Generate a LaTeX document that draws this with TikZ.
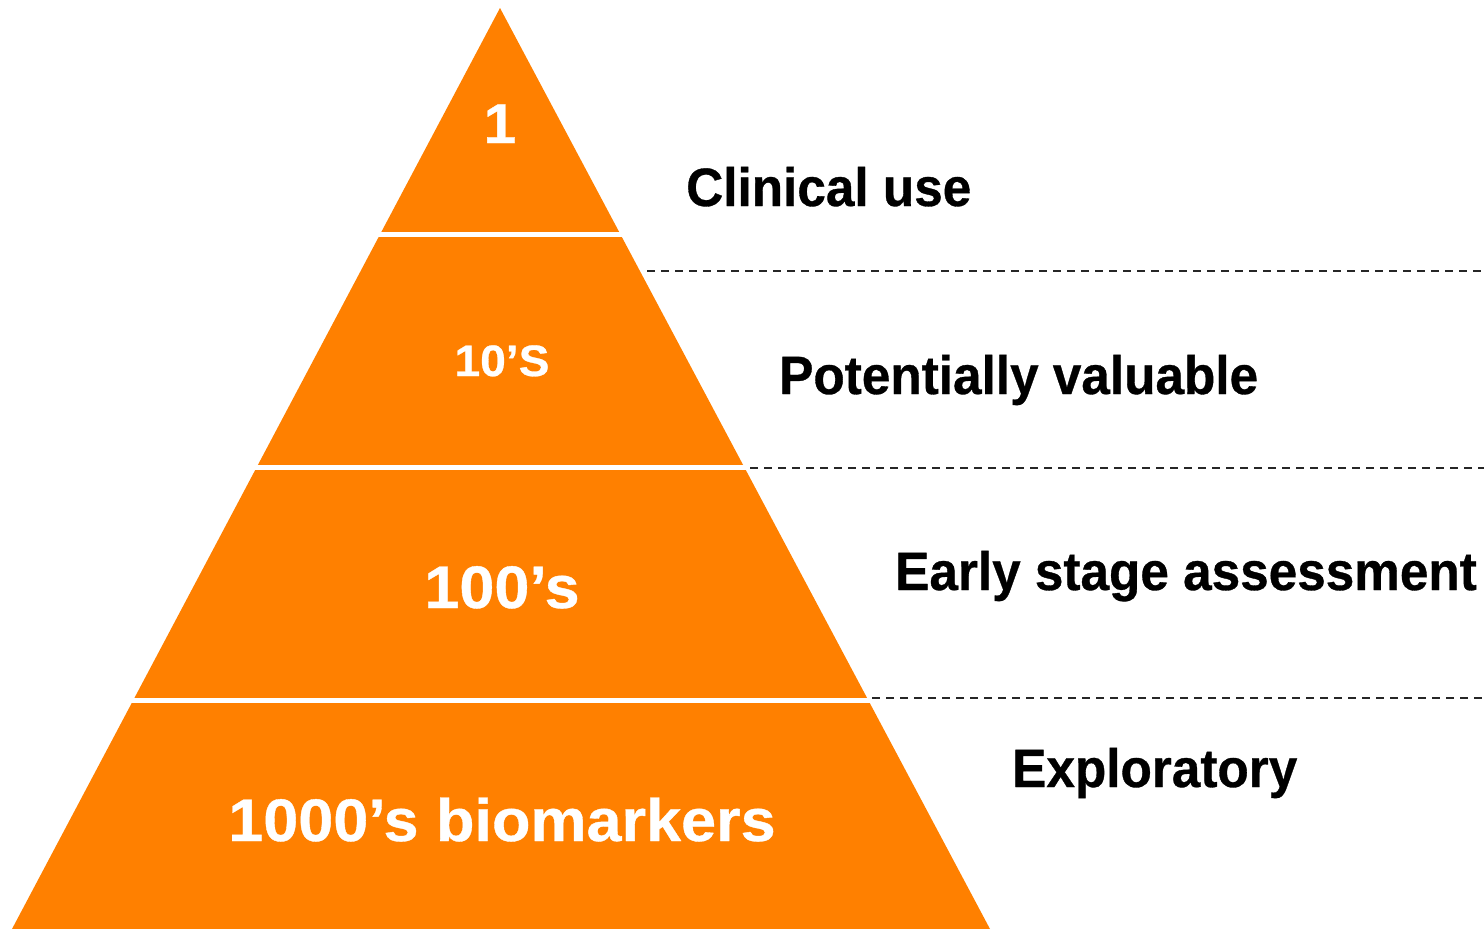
\documentclass[tikz,border=0pt]{standalone}
\usepackage{fontspec}
\setmainfont{Liberation Sans}
\newfontfamily\tierfont{Liberation Sans}[FakeStretch=0.95,FakeBold=0.6]
\newfontfamily\countfont{Liberation Sans}[FakeStretch=1.05,FakeBold=0.6]
\definecolor{tierorange}{RGB}{255,128,0}
\begin{document}
\begin{tikzpicture}[x=1pt,y=-1pt,
  gapline/.style={draw=white,line width=5pt},
  guide/.style={draw=black!85,line width=2pt,dash pattern=on 8pt off 6pt},
  countlabel/.style={text=white,inner sep=0pt,anchor=base,font=\countfont\bfseries},
  tierlabel/.style={text=black,inner sep=0pt,anchor=base west,font=\tierfont\bfseries\fontsize{54}{54}\selectfont}]
  \useasboundingbox (0,0) rectangle (1484,929);
  % pyramid outline
  \coordinate (apex) at (500,8);
  \coordinate (bl) at (12,929);
  \coordinate (br) at (990,929);
  \fill[tierorange] (apex) -- (br) -- (bl) -- cycle;
  % white separators between tiers
  \coordinate (g1l) at (370,234.5);  \coordinate (g1r) at (630,234.5);
  \coordinate (g2l) at (250,467.5);  \coordinate (g2r) at (760,467.5);
  \coordinate (g3l) at (120,700.5);  \coordinate (g3r) at (880,700.5);
  \draw[gapline] (g1l) -- (g1r);
  \draw[gapline] (g2l) -- (g2r);
  \draw[gapline] (g3l) -- (g3r);
  % dashed guides to the right of the pyramid
  \coordinate (d1s) at (647,271);  \coordinate (d1e) at (1484,271);
  \coordinate (d2s) at (750,467.5); \coordinate (d2e) at (1484,467.5);
  \coordinate (d3s) at (872,698);  \coordinate (d3e) at (1484,698);
  \draw[guide] (d1s) -- (d1e);
  \draw[guide] (d2s) -- (d2e);
  \draw[guide] (d3s) -- (d3e);
  % counts inside the tiers
  \node[countlabel,font=\countfont\bfseries\fontsize{56}{56}\selectfont] (c1) at (500,143) {1};
  \node[countlabel,font=\countfont\bfseries\fontsize{44}{44}\selectfont] (c2) at (502,376) {10’S};
  \node[countlabel,font=\countfont\bfseries\fontsize{60}{60}\selectfont] (c3) at (502,608) {100’s};
  \node[countlabel,font=\countfont\bfseries\fontsize{60}{60}\selectfont] (c4) at (502,841) {1000’s biomarkers};
  % tier names
  \node[tierlabel] (t1) at (686,206) {Clinical use};
  \node[tierlabel] (t2) at (779,394) {Potentially valuable};
  \node[tierlabel] (t3) at (895,590) {Early stage assessment};
  \node[tierlabel] (t4) at (1012,787) {Exploratory};
\end{tikzpicture}
\end{document}
